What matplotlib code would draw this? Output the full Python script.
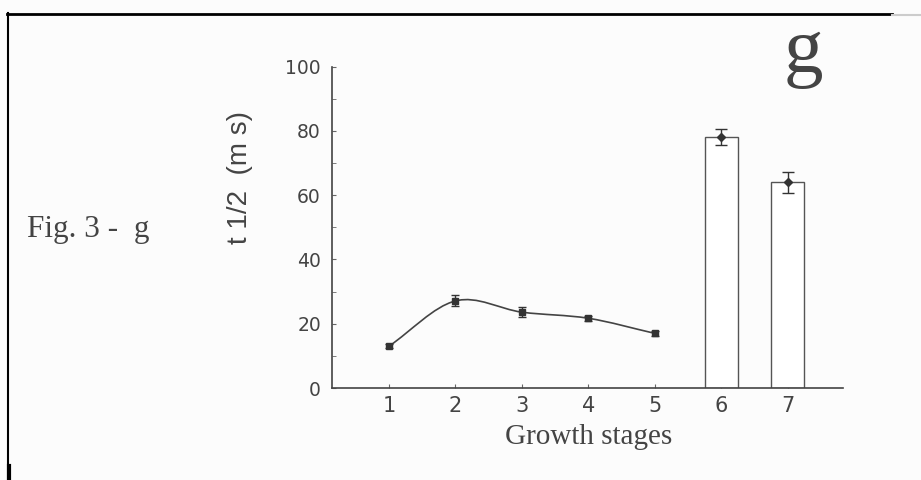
import matplotlib.pyplot as plt
from matplotlib.path import Path
from matplotlib.patches import PathPatch
from matplotlib.lines import Line2D

# stages 1-5: line, stages 6-7: bars
line_x = [1, 2, 3, 4, 5]
line_y = [13.0, 27.1, 23.6, 21.7, 17.0]
line_err = [0.7, 1.7, 1.5, 0.7, 0.7]

bar_x = [6, 7]
bar_y = [78.1, 64.0]
bar_err = [2.4, 3.3]

xticks = [1, 2, 3, 4, 5, 6, 7]
yticks = [0, 20, 40, 60, 80, 100]

ink = '#333333'

fig = plt.figure(figsize=(9.21, 4.80), dpi=100, facecolor='#fcfcfc')
ax = fig.add_axes([332 / 921, 1 - 388 / 480, (843 - 332) / 921, (388 - 66.7) / 480])
ax.set_facecolor('none')

# bars with error bars
ax.bar(bar_x, bar_y, width=0.5, color='white', edgecolor='#555555', linewidth=1.0, zorder=2)
ax.errorbar(bar_x, bar_y, yerr=bar_err, fmt='D', ms=4.5, color=ink, ecolor=ink,
            elinewidth=1, capsize=4, capthick=1, zorder=3)

# smooth curve through the line points (cubic bezier, catmull-rom tangents)
n = len(line_x)
slopes = []
for i in range(n):
    if i == 0:
        slopes.append(line_y[1] - line_y[0])
    elif i == n - 1:
        slopes.append(line_y[-1] - line_y[-2])
    else:
        slopes.append((line_y[i + 1] - line_y[i - 1]) / 2)
verts = [(line_x[0], line_y[0])]
codes = [Path.MOVETO]
for i in range(n - 1):
    verts += [(line_x[i] + 1 / 3, line_y[i] + slopes[i] / 3),
              (line_x[i + 1] - 1 / 3, line_y[i + 1] - slopes[i + 1] / 3),
              (line_x[i + 1], line_y[i + 1])]
    codes += [Path.CURVE4] * 3
ax.add_patch(PathPatch(Path(verts, codes), fill=False, edgecolor='#444444', lw=1.2, zorder=2))
ax.errorbar(line_x, line_y, yerr=line_err, fmt='s', ms=4.5, color=ink, ecolor=ink,
            elinewidth=1, capsize=3, capthick=1, zorder=3)

ax.set_xlim(0.143, 7.83)
ax.set_ylim(0, 100)
ax.set_xticks(xticks)
ax.set_yticks(yticks)
ax.set_yticks(range(10, 100, 20), minor=True)
for s in ['top', 'right']:
    ax.spines[s].set_visible(False)
for s in ['left', 'bottom']:
    ax.spines[s].set_color('#444444')
    ax.spines[s].set_linewidth(1.2)
ax.tick_params(axis='both', which='both', direction='in', length=3, color='#666666')
ax.tick_params(axis='y', labelsize=13.5, labelcolor='#444444', pad=8)
ax.tick_params(axis='x', labelsize=15, labelcolor='#444444', pad=6)
for lab in ax.get_xticklabels() + ax.get_yticklabels():
    lab.set_family('DejaVu Sans')

fig.text(240 / 921, 1 - 178 / 480, 't 1/2  (m s)', rotation=90, ha='center', va='center',
         fontsize=20, color='#444444', family='Liberation Sans')
fig.text(589 / 921, 1 - 437 / 480, 'Growth stages', ha='center', va='center',
         fontsize=21, color='#444444', family='Liberation Serif')
fig.text(27 / 921, 1 - 237 / 480, 'Fig. 3 -  g', ha='left', va='baseline',
         fontsize=22.5, color='#444444', family='Liberation Serif')
fig.text(803 / 921, 1 - 53 / 480, 'g', ha='center', va='center',
         fontsize=57, color='#444444', family='Liberation Serif')

# page frame
fig.add_artist(Line2D([7 / 921, 892 / 921], [1 - 13.5 / 480] * 2, color='black', lw=2))
fig.add_artist(Line2D([892 / 921, 1], [1 - 14.5 / 480] * 2, color='#cccccc', lw=1.5))
fig.add_artist(Line2D([7.5 / 921] * 2, [1 - 13 / 480, 0], color='black', lw=1.5))
fig.add_artist(Line2D([8.5 / 921] * 2, [1 - 466 / 480, 0], color='black', lw=3))

fig.savefig('out.png', dpi=100, facecolor=fig.get_facecolor())
